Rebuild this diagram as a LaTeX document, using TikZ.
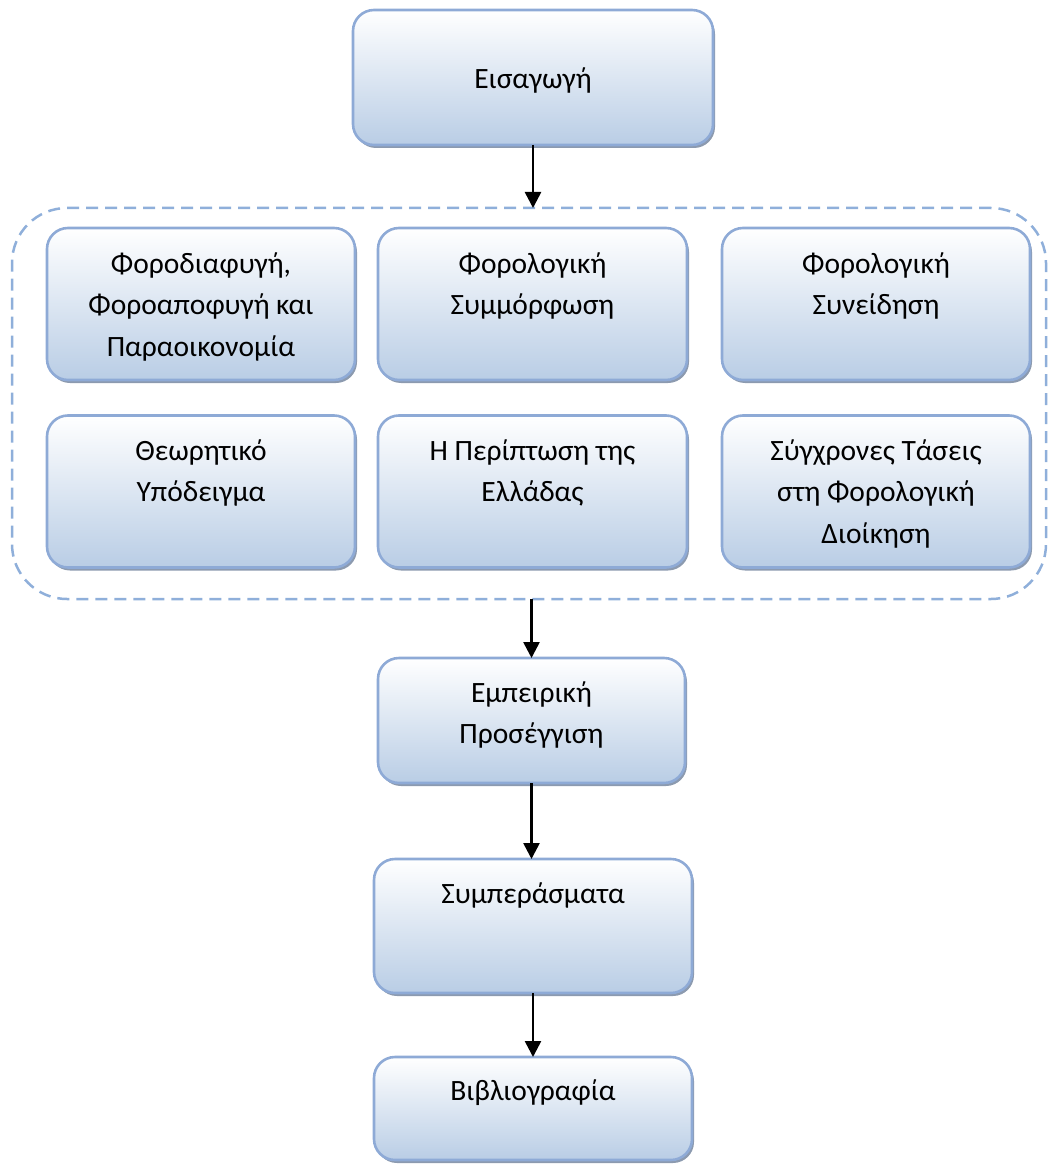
\documentclass[tikz,border=0pt]{standalone}
\usepackage{fontspec}
\setmainfont{Carlito}
\usetikzlibrary{arrows.meta,shadows}

\definecolor{boxline}{HTML}{8EAAD6}
\definecolor{boxfill}{HTML}{B9CDE5}
\definecolor{grpline}{HTML}{8FAFDA}
\definecolor{shadowc}{HTML}{7F8FA6}

\tikzset{
  stagebox/.style={
    draw=boxline, line width=2.6pt, rounded corners=21pt,
    top color=white, bottom color=boxfill,
    inner sep=0pt, outer sep=0pt,
    drop shadow={shadow xshift=2pt, shadow yshift=-3pt, fill=shadowc, opacity=0.9}
  },
  grpbox/.style={
    draw=grpline, line width=2.5pt, dash pattern=on 12pt off 7pt,
    rounded corners=55pt, inner sep=0pt, outer sep=0pt
  },
  % text is placed by the baseline of its last line
  boxtext/.style={
    anchor=base, align=center, inner sep=0pt,
    font=\fontsize{29.5}{41.5}\selectfont
  },
  flow/.style={
    draw=black, line width=2.6pt, -{Triangle[width=16pt,length=16pt]}
  }
}

\begin{document}
\begin{tikzpicture}[x=1pt,y=-1pt]
  \useasboundingbox (0,0) rectangle (1056,1166);

  % dashed group around the six topics
  \node[grpbox, minimum width=1034pt, minimum height=391pt] (grp) at (529,403.5) {};

  % introduction
  \node[stagebox, minimum width=360pt, minimum height=135pt] (intro) at (533,77.5) {};
  \node[boxtext] (intro-t) at (533,89) {Εισαγωγή};

  % first row of topics
  \node[stagebox, minimum width=308pt, minimum height=152pt] (evasion) at (201,304) {};
  \node[stagebox, minimum width=309pt, minimum height=152pt] (compliance) at (532.5,304) {};
  \node[stagebox, minimum width=308pt, minimum height=152pt] (conscience) at (876,304) {};
  \node[boxtext] (evasion-t) at (201,356) {Φοροδιαφυγή,\\Φοροαποφυγή και\\Παραοικονομία};
  \node[boxtext] (compliance-t) at (532.5,314.5) {Φορολογική\\Συμμόρφωση};
  \node[boxtext] (conscience-t) at (876,314.5) {Φορολογική\\Συνείδηση};

  % second row of topics
  \node[stagebox, minimum width=308pt, minimum height=152pt] (theory) at (201,491.5) {};
  \node[stagebox, minimum width=309pt, minimum height=152pt] (greece) at (532.5,491.5) {};
  \node[stagebox, minimum width=308pt, minimum height=152pt] (trends) at (876,491.5) {};
  \node[boxtext] (theory-t) at (201,501.5) {Θεωρητικό\\Υπόδειγμα};
  \node[boxtext] (greece-t) at (532.5,501.5) {Η Περίπτωση της\\Ελλάδας};
  \node[boxtext] (trends-t) at (876,543) {Σύγχρονες Τάσεις\\στη Φορολογική\\Διοίκηση};

  % empirical part, conclusions, references
  \node[stagebox, minimum width=307pt, minimum height=125pt] (empirical) at (531.5,720.5) {};
  \node[boxtext] (empirical-t) at (531.5,743.5) {Εμπειρική\\Προσέγγιση};
  \node[stagebox, minimum width=318pt, minimum height=134pt] (concl) at (533,926) {};
  \node[boxtext] (concl-t) at (533,903) {Συμπεράσματα};
  \node[stagebox, minimum width=318pt, minimum height=103pt] (biblio) at (533,1108.5) {};
  \node[boxtext] (biblio-t) at (533,1100) {Βιβλιογραφία};

  % connectors
  \draw[flow] (intro.south) -- (intro.south |- grp.north);
  \draw[flow] (empirical.north |- grp.south) -- (empirical.north);
  \draw[flow] (empirical.south) -- (empirical.south |- concl.north);
  \draw[flow] (concl.south) -- (concl.south |- biblio.north);
\end{tikzpicture}
\end{document}
